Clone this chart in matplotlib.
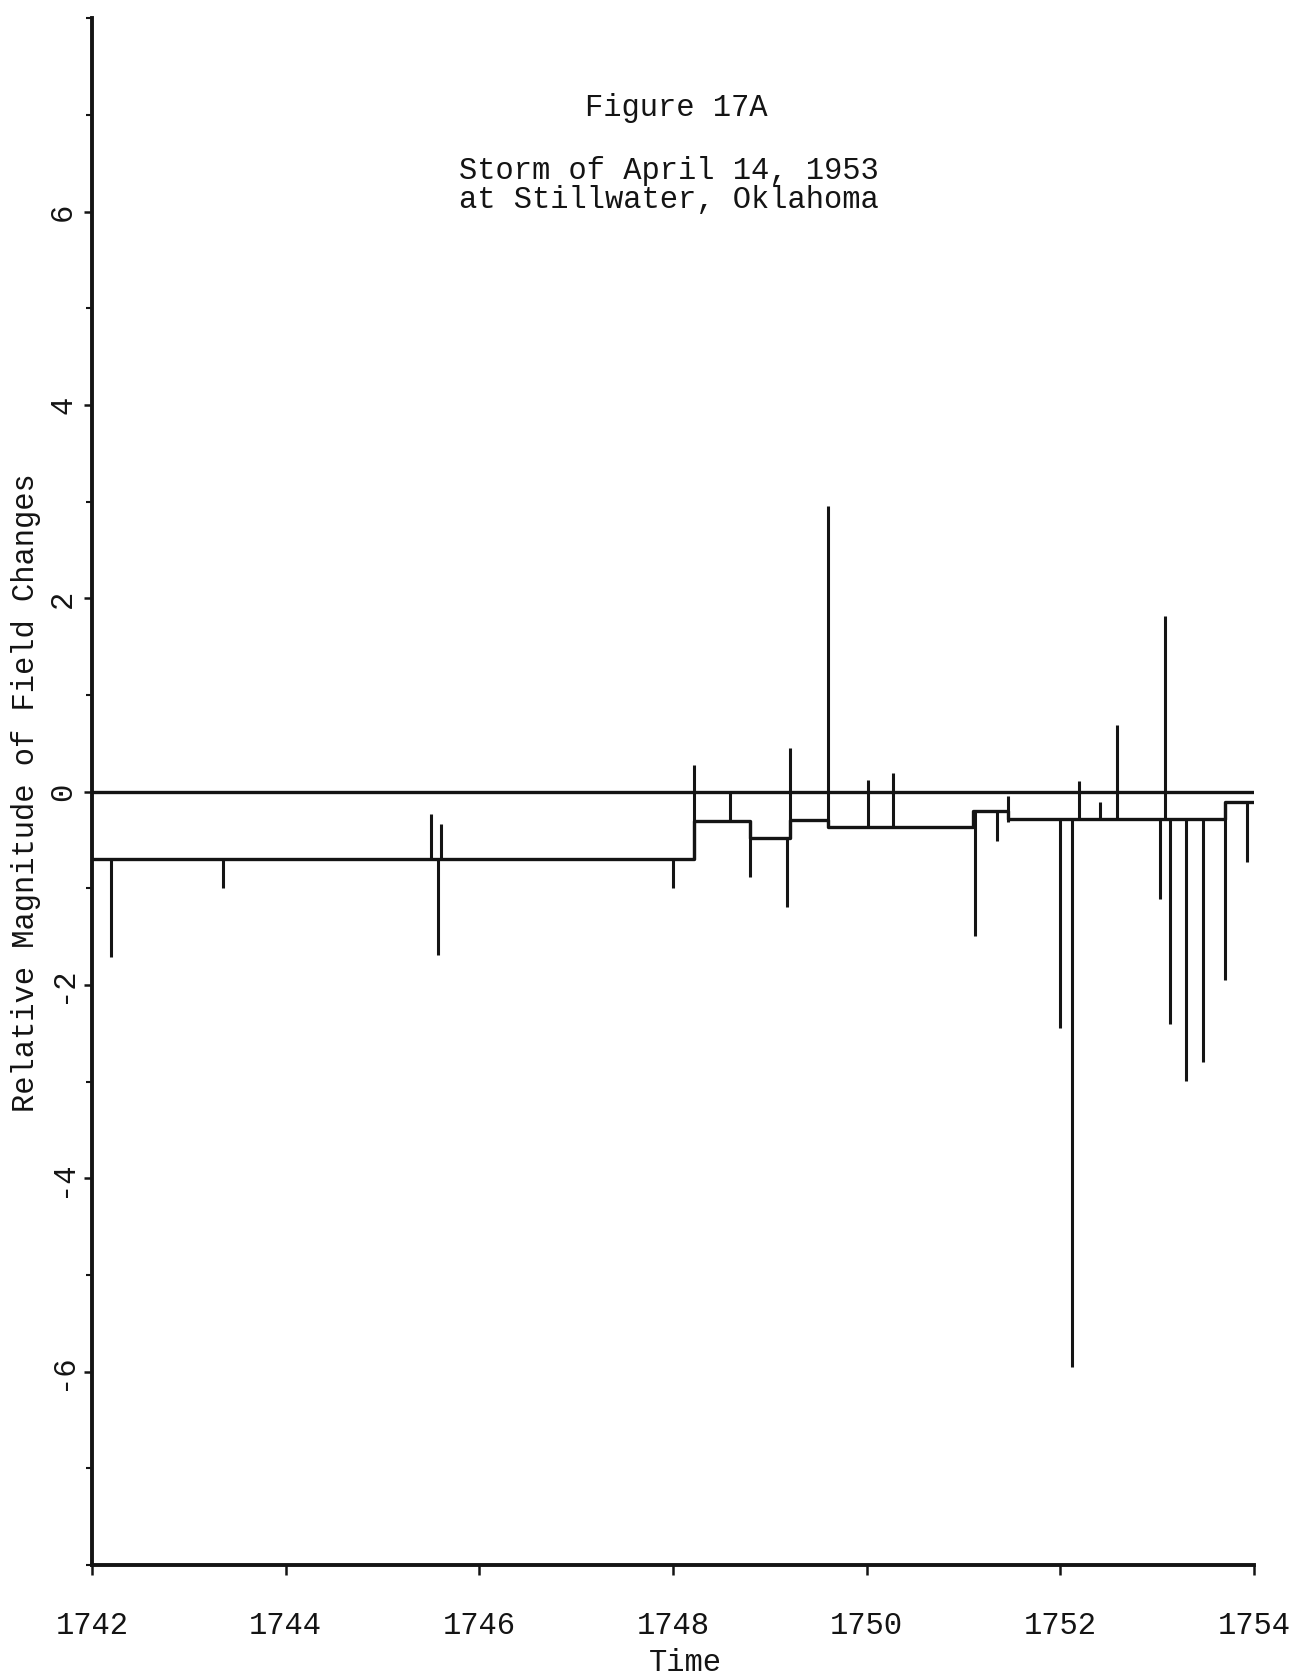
#!/usr/bin/env python3
"""Figure 17A: field-change record, storm of April 14, 1953 at Stillwater, Oklahoma."""
import matplotlib
matplotlib.use("Agg")
import matplotlib.pyplot as plt
from matplotlib.ticker import MultipleLocator

# baseline level: start time of each level and its value (last entry closes the step)
LEVEL_T = [1742.00, 1748.22, 1748.80, 1749.21, 1749.60, 1751.10, 1751.46, 1753.70, 1754.00]
LEVEL_Y = [-0.70, -0.30, -0.48, -0.29, -0.37, -0.20, -0.28, -0.11, -0.11]

# individual field changes: time, start value, end value
SPIKE_T = [1742.20, 1743.35, 1745.50, 1745.60, 1745.57, 1748.00, 1748.22, 1748.59,
           1748.80, 1749.18, 1749.21, 1749.60, 1750.01, 1750.27, 1751.12, 1751.35,
           1751.46, 1752.00, 1752.12, 1752.19, 1752.41, 1752.59, 1753.03, 1753.08,
           1753.13, 1753.30, 1753.47, 1753.70, 1753.93]
SPIKE_FROM = [-0.70, -0.70, -0.70, -0.70, -0.70, -0.70, -0.70, -0.30,
              -0.30, -0.48, -0.48, -0.37, -0.37, -0.37, -0.20, -0.20,
              -0.04, -0.28, -0.28, -0.28, -0.28, -0.28, -0.28, -0.28,
              -0.28, -0.28, -0.28, -0.11, -0.11]
SPIKE_TO = [-1.71, -1.00, -0.23, -0.33, -1.69, -1.00, 0.28, 0.00,
            -0.88, -1.19, 0.45, 2.96, 0.12, 0.19, -1.49, -0.51,
            -0.31, -2.45, -5.95, 0.11, -0.11, 0.69, -1.11, 1.82,
            -2.40, -2.99, -2.80, -1.95, -0.73]

X_TICKS = [1742, 1744, 1746, 1748, 1750, 1752, 1754]
Y_TICKS = [-6, -4, -2, 0, 2, 4, 6]

INK = "#141414"
FONT = ["Liberation Mono", "DejaVu Sans Mono"]


def main() -> None:
    plt.rcParams["font.family"] = FONT
    fig = plt.figure(figsize=(13.1, 16.8), dpi=100)
    ax = fig.add_axes([0.0702, 0.0685, 0.887, 0.9205])

    ax.hlines(0, 1742, 1754, color=INK, lw=2.4)
    ax.step(LEVEL_T, LEVEL_Y, where="post", color=INK, lw=2.4)
    ax.vlines(SPIKE_T, SPIKE_FROM, SPIKE_TO, color=INK, lw=2.2)

    ax.set_xlim(1742, 1754)
    ax.set_ylim(-8, 8)
    for s in ("top", "right"):
        ax.spines[s].set_visible(False)
    for s in ("left", "bottom"):
        ax.spines[s].set_linewidth(2.8)
        ax.spines[s].set_color(INK)

    ax.set_xticks(X_TICKS)
    ax.set_xticklabels([str(t) for t in X_TICKS], fontsize=22, color=INK)
    ax.set_yticks(Y_TICKS)
    ax.set_yticklabels([str(t) for t in Y_TICKS], fontsize=22, color=INK, rotation=90,
                       va="center")
    ax.yaxis.set_minor_locator(MultipleLocator(1))
    ax.tick_params(axis="x", direction="out", length=7, width=1.8, pad=26, colors=INK)
    ax.tick_params(axis="y", which="major", direction="out", length=6, width=1.8, pad=4,
                   colors=INK)
    ax.tick_params(axis="y", which="minor", direction="out", length=4, width=1.5, colors=INK)
    for lab in ax.get_xticklabels():
        lab.set_x(lab.get_position()[0])

    fig.text(0.5165, 0.936, "Figure 17A", ha="center", va="center", fontsize=22, color=INK)
    fig.text(0.5105, 0.8895, "Storm of April 14, 1953\nat Stillwater, Oklahoma",
             ha="center", va="center", fontsize=22, color=INK, linespacing=0.95)
    fig.text(0.0195, 0.528, "Relative Magnitude of Field Changes", rotation=90,
             ha="center", va="center", fontsize=22, color=INK)
    fig.text(0.5235, 0.0100, "Time", ha="center", va="center", fontsize=22, color=INK)

    fig.savefig("out.png", dpi=100, facecolor="white")


if __name__ == "__main__":
    main()
